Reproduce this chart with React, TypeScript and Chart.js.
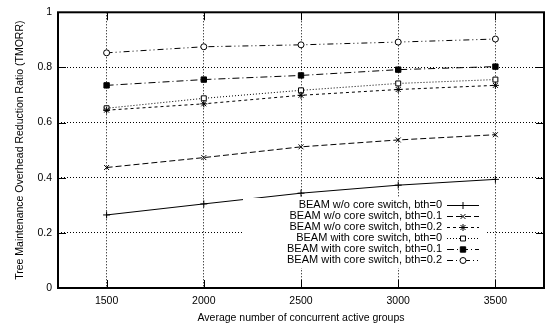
import React, { useEffect, useRef } from "react";
import { Chart, registerables } from "chart.js";
import { drawPoint } from "chart.js/helpers";

Chart.register(...registerables);

const groups = [1500, 2000, 2500, 3000, 3500];
const xTicks = [1500, 2000, 2500, 3000, 3500];

const woCore0 = [0.265, 0.305, 0.344, 0.373, 0.394];
const woCore01 = [0.437, 0.473, 0.512, 0.537, 0.556];
const woCore02 = [0.645, 0.668, 0.699, 0.72, 0.735];
const withCore0 = [0.652, 0.688, 0.717, 0.742, 0.756];
const withCore01 = [0.735, 0.756, 0.771, 0.792, 0.803];
const withCore02 = [0.853, 0.875, 0.882, 0.892, 0.903];

const labels = [
  "BEAM w/o core switch, bth=0",
  "BEAM w/o core switch, bth=0.1",
  "BEAM w/o core switch, bth=0.2",
  "BEAM with core switch, bth=0",
  "BEAM with core switch, bth=0.1",
  "BEAM with core switch, bth=0.2",
];

const FONT = "'Liberation Sans', Arial, Helvetica, sans-serif";

const styles = [
  { dash: [], point: "cross", radius: 3.5, bg: "#000" },
  { dash: [6, 3], point: "crossRot", radius: 3.5, bg: "#000" },
  { dash: [3, 3], point: "star", radius: 3.5, bg: "#000" },
  { dash: [1, 2], point: "rect", radius: 3.5, bg: "#fff" },
  { dash: [7, 3, 1, 3], point: "rect", radius: 3.8, bg: "#000" },
  { dash: [6, 3, 1, 3, 1, 3], point: "circle", radius: 3, bg: "#fff" },
];

const series = [woCore0, woCore01, woCore02, withCore0, withCore01, withCore02];

const framePlugin = {
  id: "frame",
  afterDatasetsDraw(chart: any) {
    const { ctx, chartArea } = chart;
    const { left, right, top, bottom } = chartArea;
    const xs = chart.scales.x;
    const ys = chart.scales.y;
    ctx.save();
    // legend box (opaque)
    const bx0 = 243, bx1 = 487, by0 = 198, by1 = 268;
    ctx.fillStyle = "#fff";
    ctx.fillRect(bx0, by0, bx1 - bx0, by1 - by0);
    ctx.font = `11px ${FONT}`;
    ctx.textAlign = "right";
    ctx.textBaseline = "middle";
    const rowY = [205, 215.5, 226.5, 237.5, 248.5, 259.5];
    labels.forEach((t, i) => {
      const y = rowY[i];
      ctx.fillStyle = "#000";
      ctx.fillText(t, 442, y);
      ctx.strokeStyle = "#000";
      ctx.lineWidth = 1;
      ctx.setLineDash(styles[i].dash);
      ctx.beginPath();
      ctx.moveTo(447, Math.round(y) + 0.5);
      ctx.lineTo(479, Math.round(y) + 0.5);
      ctx.stroke();
      ctx.setLineDash([]);
      ctx.fillStyle = styles[i].bg;
      drawPoint(
        ctx,
        {
          pointStyle: styles[i].point as any,
          radius: styles[i].radius,
          borderWidth: 1,
          rotation: 0,
        } as any,
        463,
        Math.round(y) + 0.5
      );
    });
    // inward ticks
    ctx.setLineDash([]);
    ctx.strokeStyle = "#000";
    ctx.lineWidth = 1;
    ctx.beginPath();
    xTicks.forEach((v) => {
      const px = Math.round(xs.getPixelForValue(v)) + 0.5;
      ctx.moveTo(px, bottom);
      ctx.lineTo(px, bottom - 8);
      ctx.moveTo(px, top);
      ctx.lineTo(px, top + 8);
    });
    [0.2, 0.4, 0.6, 0.8].forEach((v) => {
      const py = Math.round(ys.getPixelForValue(v)) + 0.5;
      ctx.moveTo(left, py);
      ctx.lineTo(left + 8, py);
      ctx.moveTo(right, py);
      ctx.lineTo(right - 8, py);
    });
    ctx.stroke();
    // border
    ctx.lineWidth = 2;
    ctx.strokeRect(left, top, right - left, bottom - top);
    ctx.restore();
  },
};

export default function App() {
  const ref = useRef<HTMLCanvasElement | null>(null);
  useEffect(() => {
    document.body.style.margin = "0";
    const canvas = ref.current!;
    const chart = new Chart(canvas, {
      type: "line",
      data: {
        datasets: series.map((s, i) => ({
          label: labels[i],
          data: s.map((v, j) => ({ x: groups[j], y: v })),
          borderColor: "#000",
          borderWidth: 1,
          borderDash: styles[i].dash,
          pointStyle: styles[i].point as any,
          pointRadius: styles[i].radius,
          pointBorderWidth: 1,
          pointBorderColor: "#000",
          pointBackgroundColor: styles[i].bg,
          fill: false,
          tension: 0,
        })),
      },
      options: {
        animation: false,
        responsive: false,
        devicePixelRatio: 1,
        layout: { padding: { top: 9, right: 9, left: 0, bottom: 0 } },
        plugins: { legend: { display: false }, tooltip: { enabled: false } },
        scales: {
          x: {
            type: "linear",
            min: 1250,
            max: 3750,
            afterBuildTicks: (scale: any) => {
              scale.ticks = xTicks.map((v) => ({ value: v }));
            },
            afterFit: (scale: any) => {
              scale.height = 35;
            },
            grid: { color: "#000", lineWidth: 1, drawTicks: false },
            border: { display: false, dash: [1, 2] },
            ticks: {
              color: "#000",
              font: { family: FONT, size: 10.5 },
              padding: 7,
              maxRotation: 0,
              autoSkip: false,
              callback: (v: any) => String(v),
            },
            title: {
              display: true,
              text: "Average number of concurrent active groups",
              color: "#000",
              font: { family: FONT, size: 10.5, lineHeight: 1 },
              padding: { top: 0, bottom: 0 },
            },
          },
          y: {
            min: 0,
            max: 1,
            afterFit: (scale: any) => {
              scale.width = 58;
            },
            grid: { color: "#000", lineWidth: 1, drawTicks: false },
            border: { display: false, dash: [1, 2] },
            ticks: {
              stepSize: 0.2,
              color: "#000",
              font: { family: FONT, size: 10.5 },
              padding: 6,
              callback: (v: any) => String(Number(Number(v).toFixed(1))),
            },
            title: {
              display: true,
              text: "Tree Maintenance Overhead Reduction Ratio (TMORR)",
              color: "#000",
              font: { family: FONT, size: 10.5, lineHeight: 1 },
              padding: { top: 14.5, bottom: 0 },
            },
          },
        },
      },
      plugins: [framePlugin],
    });
    return () => chart.destroy();
  }, []);
  return (
    <div style={{ width: 553, height: 323 }}>
      <canvas ref={ref} width={553} height={323} style={{ display: "block" }} />
    </div>
  );
}
